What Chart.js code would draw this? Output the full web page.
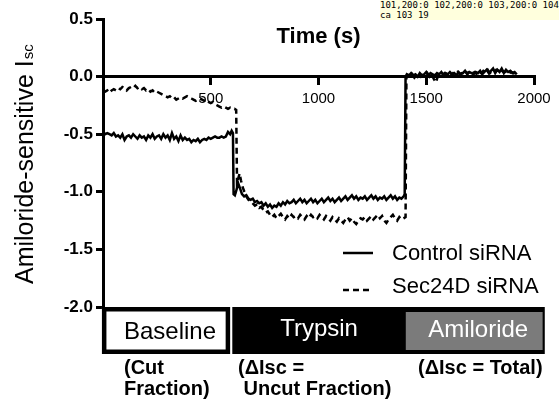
<!DOCTYPE html>
<html><head><meta charset="utf-8">
<script src="https://cdn.jsdelivr.net/npm/chart.js@4"></script>
<style>html,body{margin:0;padding:0;background:#fff;} #d{position:absolute;left:380px;top:0;font:9px monospace;white-space:pre;background:#ffd;}</style>
</head><body>
<canvas id="c" width="559" height="401"></canvas><div id="d"></div>
<script>
const controlTimes = [0,10,20,30,40,50,60,70,80,90,100,110,120,130,140,150,160,170,180,190,200,210,220,230,240,250,260,270,280,290,300,310,320,330,340,350,360,370,380,390,400,410,420,430,440,450,460,470,480,490,500,510,520,530,540,550,560,570,580,590,597,603,
606,612,620,628,636,645,655,665,675,685,695,705,715,725,735,745,755,765,775,785,795,805,815,825,835,845,855,865,875,885,895,905,915,925,935,945,955,965,975,985,995,1005,1015,1025,1035,1045,1055,1065,1075,1085,1095,1105,1115,1125,1135,1145,1155,1165,1175,1185,1195,1205,1215,1225,1235,1245,1255,1265,1275,1285,1295,1305,1315,1325,1335,1345,1355,1365,1375,1385,1395,1400,
1404,1410,1420,1430,1440,1450,1460,1470,1480,1490,1500,1510,1520,1530,1540,1550,1560,1570,1580,1590,1600,1610,1620,1630,1640,1650,1660,1670,1680,1690,1700,1710,1720,1730,1740,1750,1760,1770,1780,1790,1800,1810,1820,1830,1840,1850,1860,1870,1880,1890,1900,1910,1920];
const controlValues = [-0.48,-0.50,-0.49,-0.50,-0.51,-0.49,-0.52,-0.51,-0.53,-0.50,-0.55,-0.52,-0.51,-0.53,-0.50,-0.52,-0.54,-0.51,-0.53,-0.52,-0.55,-0.51,-0.53,-0.50,-0.54,-0.52,-0.51,-0.54,-0.50,-0.53,-0.51,-0.55,-0.49,-0.54,-0.52,-0.56,-0.51,-0.55,-0.53,-0.55,-0.54,-0.57,-0.55,-0.56,-0.54,-0.57,-0.55,-0.54,-0.55,-0.53,-0.54,-0.53,-0.52,-0.53,-0.53,-0.52,-0.53,-0.52,-0.48,-0.50,-0.47,-0.49,
-1.02,-1.03,-0.98,-0.93,-0.97,-1.02,-1.04,-1.03,-1.06,-1.07,-1.06,-1.09,-1.08,-1.10,-1.09,-1.12,-1.10,-1.13,-1.11,-1.14,-1.12,-1.13,-1.10,-1.12,-1.09,-1.11,-1.08,-1.10,-1.09,-1.07,-1.10,-1.08,-1.06,-1.09,-1.07,-1.10,-1.08,-1.06,-1.09,-1.07,-1.10,-1.08,-1.06,-1.09,-1.07,-1.05,-1.08,-1.06,-1.09,-1.07,-1.05,-1.08,-1.06,-1.04,-1.07,-1.05,-1.03,-1.06,-1.04,-1.07,-1.05,-1.06,-1.04,-1.07,-1.05,-1.03,-1.06,-1.04,-1.07,-1.05,-1.06,-1.04,-1.07,-1.05,-1.03,-1.06,-1.04,-1.07,-1.05,-1.06,-1.04,-1.02,
0.00,0.02,0.01,0.03,0.01,0.02,0.00,0.03,0.01,0.02,0.04,0.01,0.03,0.02,0.01,0.03,0.02,0.04,0.01,0.03,0.02,0.04,0.02,0.03,0.01,0.04,0.02,0.03,0.05,0.02,0.04,0.03,0.02,0.04,0.03,0.05,0.02,0.04,0.06,0.03,0.05,0.07,0.03,0.06,0.04,0.07,0.03,0.06,0.04,0.05,0.03,0.04,0.02];
const sec24dTimes = [0,10,20,30,40,50,60,70,80,90,100,110,120,130,140,150,160,170,180,190,200,210,220,230,240,250,260,270,280,290,300,310,320,330,340,350,360,370,380,390,400,410,420,430,440,450,460,470,480,490,500,510,520,530,540,550,560,570,580,590,600,610,618,
622,628,634,640,648,656,665,675,685,695,705,715,725,735,745,755,765,775,785,795,805,815,825,835,845,855,865,875,885,895,905,915,925,935,945,955,965,975,985,995,1005,1015,1025,1035,1045,1055,1065,1075,1085,1095,1105,1115,1125,1135,1145,1155,1165,1175,1185,1195,1205,1215,1225,1235,1245,1255,1265,1275,1285,1295,1305,1315,1325,1335,1345,1355,1365,1375,1385,1395,1404,
1408,1415,1425,1435,1445,1455,1465,1475,1485,1495,1505,1515,1525,1535,1545,1555,1565,1575,1585,1595,1605,1615,1625,1635,1645,1655,1665,1675,1685,1695,1705,1715,1725,1735,1745,1755,1765,1775,1785,1795,1805,1815,1825,1835,1845,1855,1865,1875,1885,1895,1905,1915,1925];
const sec24dValues = [-0.14,-0.13,-0.12,-0.14,-0.12,-0.11,-0.12,-0.10,-0.11,-0.09,-0.10,-0.12,-0.10,-0.09,-0.10,-0.08,-0.10,-0.09,-0.11,-0.10,-0.12,-0.11,-0.13,-0.12,-0.14,-0.13,-0.14,-0.15,-0.16,-0.17,-0.18,-0.17,-0.19,-0.18,-0.20,-0.19,-0.18,-0.19,-0.18,-0.17,-0.18,-0.19,-0.20,-0.21,-0.20,-0.19,-0.20,-0.21,-0.20,-0.22,-0.23,-0.22,-0.24,-0.25,-0.26,-0.27,-0.26,-0.27,-0.28,-0.27,-0.28,-0.28,-0.29,
-0.93,-0.88,-0.84,-0.90,-0.96,-1.00,-1.04,-1.07,-1.08,-1.10,-1.12,-1.11,-1.14,-1.13,-1.16,-1.18,-1.17,-1.20,-1.22,-1.20,-1.23,-1.21,-1.19,-1.22,-1.24,-1.21,-1.23,-1.20,-1.22,-1.21,-1.23,-1.20,-1.22,-1.24,-1.21,-1.23,-1.20,-1.22,-1.21,-1.23,-1.20,-1.22,-1.24,-1.21,-1.23,-1.25,-1.22,-1.24,-1.26,-1.23,-1.25,-1.27,-1.24,-1.22,-1.25,-1.23,-1.26,-1.28,-1.25,-1.23,-1.24,-1.22,-1.25,-1.23,-1.21,-1.24,-1.22,-1.20,-1.23,-1.21,-1.25,-1.27,-1.24,-1.22,-1.20,-1.23,-1.25,-1.22,-1.24,-1.23,-1.22,
-0.01,0.01,0.00,0.02,-0.01,0.01,0.02,0.00,0.02,0.01,0.03,0.00,0.02,-0.02,-0.05,0.01,0.02,0.01,0.03,0.02,0.03,0.01,0.03,0.02,0.04,0.02,0.03,0.02,0.04,0.03,0.05,0.03,0.04,0.02,0.04,0.03,0.05,0.04,0.06,0.03,0.05,0.04,0.06,0.05,0.03,0.05,0.04,0.05,0.03,0.04,0.03,0.02,0.03];
const seriesNames = ['Control siRNA', 'Sec24D siRNA'];
const xTickValues = [500, 1000, 1500, 2000];
const yTickValues = [0.5, 0.0, -0.5, -1.0, -1.5, -2.0];
const phaseNames = ['Baseline', 'Trypsin', 'Amiloride'];
const phaseStart = [-5, 600, 1405];
const phaseEnd = [590, 2050, 2040];
const phaseNotes = [['(Cut', 'Fraction)'], ['(\u0394Isc =', ' Uncut Fraction)'], ['(\u0394Isc = Total)']];
const yTitleMain = 'Amiloride-sensitive I';
const yTitleSub = 'sc';
const xTitle = 'Time (s)';

const FAM = '"Liberation Sans", Arial, Helvetica, sans-serif';
Chart.defaults.font.family = FAM;
Chart.defaults.color = '#000';
const toPts = (ts, vs) => ts.map((t, i) => ({x: t, y: vs[i]}));
const dbg = [];

const extras = {
  id: 'extras',
  afterDraw(chart) {
    const ctx = chart.ctx;
    const xs = chart.scales.x;
    const ys = chart.scales.y;
    const ca = chart.chartArea;
    ctx.save();
    ctx.setLineDash([]);

    ctx.save();
    ctx.translate(33, 284);
    ctx.rotate(-Math.PI / 2);
    ctx.fillStyle = '#000';
    ctx.textAlign = 'left';
    ctx.textBaseline = 'alphabetic';
    ctx.font = '25px ' + FAM;
    ctx.fillText(yTitleMain, 0, 0);
    const w = ctx.measureText(yTitleMain).width;
    ctx.font = '15px ' + FAM;
    ctx.fillText(yTitleSub, w + 1, 0);
    ctx.restore();

    const lx0 = 343, lx1 = 373;
    const rows = [253, 290];
    const textBase = [260, 293];
    chart.data.datasets.forEach((ds, i) => {
      ctx.beginPath();
      ctx.strokeStyle = '#000';
      ctx.lineWidth = 2.5;
      ctx.setLineDash(ds.borderDash || []);
      ctx.moveTo(lx0, rows[i]);
      ctx.lineTo(lx1, rows[i]);
      ctx.stroke();
      ctx.setLineDash([]);
      ctx.fillStyle = '#000';
      ctx.font = '22px ' + FAM;
      ctx.textAlign = 'left';
      ctx.textBaseline = 'alphabetic';
      ctx.fillText(ds.label, 392, textBase[i]);
    });

    const top = ca.bottom, bot = ca.bottom + 47;
    const px = phaseStart.map(v => xs.getPixelForValue(v));
    const pe = phaseEnd.map(v => xs.getPixelForValue(v));
    ctx.fillStyle = '#000';
    ctx.fillRect(px[1], top, pe[1] - px[1], bot - top);
    ctx.fillStyle = '#7b7b7b';
    ctx.fillRect(px[2], top + 5, pe[2] - px[2], bot - top - 9);
    ctx.fillStyle = '#fff';
    ctx.fillRect(px[0], top, pe[0] - px[0], bot - top);
    ctx.strokeStyle = '#000';
    ctx.lineWidth = 4.5;
    ctx.strokeRect(px[0] + 2.25, top + 2.25, pe[0] - px[0] - 4.5, bot - top - 4.5);

    ctx.font = '24px ' + FAM;
    ctx.textAlign = 'center';
    ctx.textBaseline = 'alphabetic';
    ctx.fillStyle = '#000';
    ctx.fillText(phaseNames[0], (px[0] + pe[0]) / 2 + 4, top + 32);
    ctx.fillStyle = '#fff';
    ctx.fillText(phaseNames[1], (px[1] + px[2]) / 2, top + 29);
    ctx.fillText(phaseNames[2], (px[2] + pe[2]) / 2 + 4, top + 30);

    ctx.fillStyle = '#000';
    ctx.font = 'bold 20px ' + FAM;
    ctx.textAlign = 'left';
    const noteX = [124, 238, 418];
    phaseNotes.forEach((lines, i) => {
      lines.forEach((ln, j) => { ctx.fillText(ln, noteX[i], 374 + j * 21); });
    });
    ctx.restore();
  }
};

const chart = new Chart(document.getElementById('c'), {
  type: 'line',
  data: {
    datasets: [
      {label: seriesNames[0], data: toPts(controlTimes, controlValues), borderColor: '#000', borderWidth: 2.5, pointRadius: 0, tension: 0, fill: false},
      {label: seriesNames[1], data: toPts(sec24dTimes, sec24dValues), borderColor: '#000', borderWidth: 2.5, borderDash: [6, 4], pointRadius: 0, tension: 0, fill: false}
    ]
  },
  options: {
    responsive: false, animation: false, devicePixelRatio: 1,
    layout: {padding: {left: 0, right: 25, top: 19, bottom: 94}},
    plugins: {legend: {display: false}, tooltip: {enabled: false}},
    scales: {
      x: {
        type: 'linear', min: 0, max: 2000, position: {y: 0},
        afterFit(s) { s.height = 0; },
        afterBuildTicks(s) { s.ticks = [0].concat(xTickValues).map(v => ({value: v})); },
        ticks: {callback: v => xTickValues.includes(v) ? String(v) : '', font: {size: 15}, color: '#000', padding: 6, maxRotation: 0, autoSkip: false},
        grid: {drawOnChartArea: false, drawTicks: true, tickLength: 7, color: '#000', lineWidth: 3},
        border: {color: '#000', width: 3},
        title: {display: true, text: xTitle, font: {size: 22, weight: 'bold'}, color: '#000', padding: {top: 0, bottom: 26}}
      },
      y: {
        type: 'linear', min: -2, max: 0.5,
        afterFit(s) { s.width = 103; },
        afterBuildTicks(s) { s.ticks = yTickValues.map(v => ({value: v})); },
        ticks: {callback: v => Number(v).toFixed(1), font: {size: 17, weight: 'bold'}, color: '#000', padding: 3},
        grid: {drawOnChartArea: false, drawTicks: true, tickLength: 7, color: '#000', lineWidth: 3},
        border: {color: '#000', width: 3}
      }
    }
  },
  plugins: [extras]
});
try {
  const c2 = chart.ctx;
  const pts = [[101,200],[102,200],[103,200],[104,200],[105,200],[98,134],[211,81]];
  dbg.push(pts.map(p => p.join(',') + ':' + c2.getImageData(p[0], p[1], 1, 1).data[0]).join(' '));
  dbg.push('ca ' + chart.chartArea.left + ' ' + chart.chartArea.top);
} catch (e) { dbg.push('ERR ' + e.message); }
document.getElementById('d').textContent = dbg.join('\n');
</script>
</body></html>
